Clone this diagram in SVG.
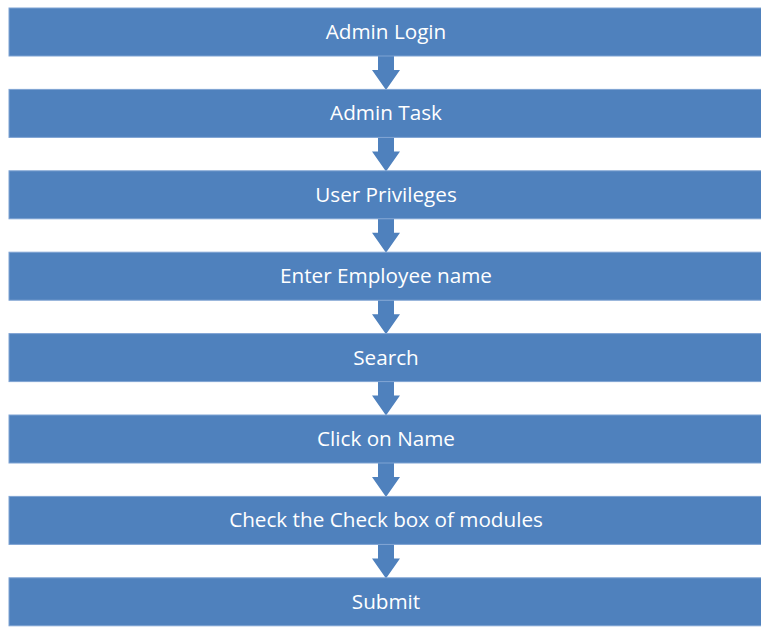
<svg xmlns="http://www.w3.org/2000/svg" width="761" height="631" viewBox="0 0 761 631">
<defs>
<style>
.box{fill:#4F81BD;stroke:#7FA3D3;stroke-width:1}
.lbl{fill:#FFFFFF;font-family:"Open Sans","Liberation Sans",sans-serif;font-size:20.7px;text-anchor:middle;dominant-baseline:central}
.arr{fill:#4F81BD}
</style>
<path id="ar" d="M-8,0 H8 V14 H14 L0,34 L-14,14 H-8 Z"/>
</defs>
<rect width="761" height="631" fill="#FFFFFF"/>
<g id="connectors">
<use href="#ar" class="arr" x="386" y="56"/>
<use href="#ar" class="arr" x="386" y="137.4"/>
<use href="#ar" class="arr" x="386" y="218.8"/>
<use href="#ar" class="arr" x="386" y="300.2"/>
<use href="#ar" class="arr" x="386" y="381.6"/>
<use href="#ar" class="arr" x="386" y="463"/>
<use href="#ar" class="arr" x="386" y="544.4"/>
</g>
<g id="n1"><rect class="box" x="9" y="8" width="760" height="48"/><text class="lbl" x="386" y="31">Admin Login</text></g>
<g id="n2"><rect class="box" x="9" y="89.4" width="760" height="48"/><text class="lbl" x="386" y="112.4">Admin Task</text></g>
<g id="n3"><rect class="box" x="9" y="170.8" width="760" height="48"/><text class="lbl" x="386" y="193.8">User Privileges</text></g>
<g id="n4"><rect class="box" x="9" y="252.2" width="760" height="48"/><text class="lbl" x="386" y="275.2">Enter Employee name</text></g>
<g id="n5"><rect class="box" x="9" y="333.6" width="760" height="48"/><text class="lbl" x="386" y="356.6">Search</text></g>
<g id="n6"><rect class="box" x="9" y="415" width="760" height="48"/><text class="lbl" x="386" y="438">Click on Name</text></g>
<g id="n7"><rect class="box" x="9" y="496.4" width="760" height="48"/><text class="lbl" x="386" y="519.4">Check the Check box of modules</text></g>
<g id="n8"><rect class="box" x="9" y="577.8" width="760" height="48"/><text class="lbl" x="386" y="600.8">Submit</text></g>
</svg>
